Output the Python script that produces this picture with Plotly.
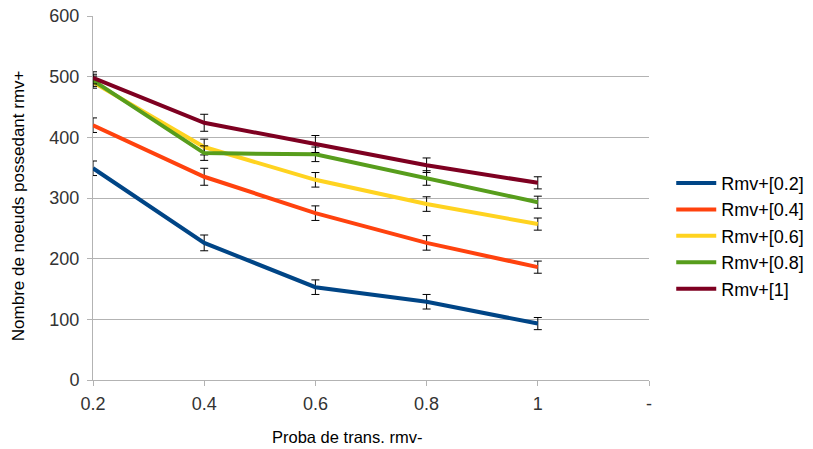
import plotly.graph_objects as go

categories = ["0.2", "0.4", "0.6", "0.8", "1", "-"]
x_vals = ["0.2", "0.4", "0.6", "0.8", "1"]

names = ["Rmv+[0.2]", "Rmv+[0.4]", "Rmv+[0.6]", "Rmv+[0.8]", "Rmv+[1]"]
rmv_02 = [349, 226, 153, 129, 93]
rmv_04 = [420, 335, 275, 226, 186]
rmv_06 = [491, 384, 330, 290, 257]
rmv_08 = [494, 374, 372, 333, 293]
rmv_1 = [498, 424, 389, 354, 325]

err_02 = [12, 13, 12, 12, 10]
err_04 = [12, 14, 12, 12, 10]
err_06 = [10, 13, 12, 12, 10]
err_08 = [10, 12, 12, 12, 10]
err_1 = [10, 14, 14, 12, 10]

colors = ["#004586", "#ff420e", "#ffd320", "#579d1c", "#7e0021"]

fig = go.Figure()
for name, ys, errs, col in zip(names, [rmv_02, rmv_04, rmv_06, rmv_08, rmv_1],
                               [err_02, err_04, err_06, err_08, err_1], colors):
    fig.add_trace(go.Scatter(
        x=x_vals, y=ys, name=name, mode="lines",
        line=dict(color=col, width=4),
        error_y=dict(type="data", array=errs, visible=True,
                     color="black", thickness=1, width=4),
    ))

fig.update_layout(
    width=813, height=449,
    margin=dict(l=93, r=164, t=16, b=69, autoexpand=False),
    paper_bgcolor="white", plot_bgcolor="white",
    font=dict(family="Liberation Sans, Arial, sans-serif", color="#333333"),
    legend=dict(x=1.04, y=0.396, xanchor="left", yanchor="middle",
                font=dict(size=18, color="#000000"), tracegroupgap=0,
                itemwidth=40),
    showlegend=True,
)
fig.update_xaxes(
    type="category", categoryorder="array", categoryarray=categories,
    range=[0, 5], showgrid=False, ticks="outside", ticklen=5,
    tickcolor="#b3b3b3", showline=True, linecolor="#b3b3b3",
    tickfont=dict(size=18, color="#333333"), zeroline=False, automargin=False,
    ticklabelstandoff=2, ticklabeloverflow="allow",
)
fig.update_yaxes(
    range=[0, 600], dtick=100, showgrid=True, gridcolor="#b3b3b3",
    ticks="outside", ticklen=5, tickcolor="#b3b3b3", showline=True,
    linecolor="#b3b3b3", zeroline=False, automargin=False,
    tickfont=dict(size=18, color="#333333"),
    ticklabelstandoff=4, ticklabeloverflow="allow",
)

# axis titles as annotations (LibreOffice places the x title off-centre)
fig.add_annotation(text="Proba de trans. rmv-", xref="paper", yref="paper",
                   x=0.457, y=-0.157, xanchor="center", yanchor="middle",
                   showarrow=False, font=dict(size=16.5, color="#000000"))
fig.add_annotation(text="Nombre de noeuds possedant rmv+", xref="paper",
                   yref="paper", x=-0.135, y=0.48, xanchor="center",
                   yanchor="middle", textangle=-90, showarrow=False,
                   font=dict(size=17, color="#000000"))

# drop the default 8px body margin so the figure fills the window
fig.write_html("out.html", config={"displayModeBar": False},
               post_script="document.body.style.margin='0';")
